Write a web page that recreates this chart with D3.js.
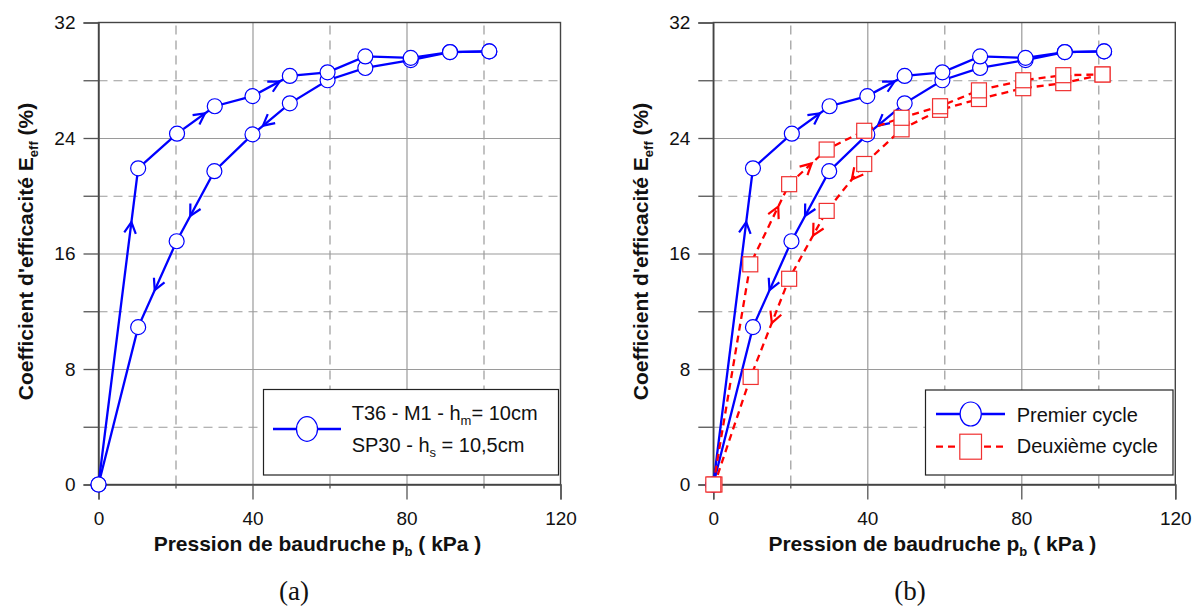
<!DOCTYPE html>
<html>
<head>
<meta charset="utf-8">
<script src="https://cdn.jsdelivr.net/npm/d3@7"></script>
<style>
  html, body { margin: 0; padding: 0; background: #fff; }
  svg { display: block; }
</style>
</head>
<body>
<svg id="chart" width="1194" height="606"></svg>
<script>
// ---------- data ----------
const pressureTicks = [0, 40, 80, 120];
const pressureMinorTicks = [20, 60, 100];
const effTicks = [0, 8, 16, 24, 32];
const effMinorTicks = [4, 12, 20, 28];

// Premier cycle (loading then unloading)
const p1Load = [0, 10.3, 20.4, 30.2, 40, 49.7, 59.5, 69.3, 81.1, 91.3, 101.5];
const e1Load = [0, 21.9, 24.3, 26.2, 26.9, 28.3, 28.55, 29.65, 29.55, 29.95, 30.0];
const p1Unload = [101.5, 91.3, 81.1, 69.3, 59.5, 49.7, 40, 30.1, 20.3, 10.3, 0];
const e1Unload = [30.0, 29.95, 29.4, 28.85, 28.0, 26.4, 24.25, 21.7, 16.85, 10.9, 0];

// Deuxième cycle
const p2Load = [0, 9.6, 19.7, 29.45, 39.2, 48.9, 58.9, 69.0, 80.5, 90.9, 101.1];
const e2Load = [0, 15.25, 20.8, 23.2, 24.5, 25.4, 26.2, 27.3, 28.0, 28.35, 28.4];
const p2Unload = [101.1, 90.9, 80.5, 69.0, 58.9, 48.9, 39.2, 29.45, 19.7, 9.7, 0.3];
const e2Unload = [28.4, 27.8, 27.45, 26.7, 25.95, 24.6, 22.2, 18.95, 14.25, 7.45, 0];

// arrows: [segment start index, position along segment]
const arrows1Load = [[0, 0.83], [2, 0.74], [4, 0.73]];
const arrows1Unload = [[5, 0.72], [7, 0.64], [8, 0.57]];
const arrows2Load = [[1, 0.72], [2, 0.6]];
const arrows2Unload = [[6, 0.33], [7, 0.36], [8, 0.45]];

const xTitle = ["Pression de baudruche p", "b", " ( kPa )"];
const yTitle = ["Coefficient d'efficacité E", "eff", " (%)"];
const legendA = [["T36 - M1 - h", "m", "= 10cm"], ["SP30 - h", "s", " = 10,5cm"]];
const legendB = ["Premier cycle", "Deuxième cycle"];
const panelLabels = ["(a)", "(b)"];

// ---------- drawing ----------
const svg = d3.select("#chart");
const BLUE = "#0000ff", RED = "#ff0000", RED_MARK = "#f03030";
const SANS = "'Liberation Sans', Arial, Helvetica, sans-serif";

const x = d3.scaleLinear().domain([0, 120]).range([98.5, 560.5]);
const y = d3.scaleLinear().domain([0, 32]).range([484.5, 22.5]);

const zip = (a, b) => a.map((v, i) => [v, b[i]]);

function drawPanel(dx, withSecond, label, labelX) {
  const g = svg.append("g").attr("transform", `translate(${dx},0)`);

  // grid
  const gridStyle = (sel, dash) => {
    sel.select(".domain").remove();
    sel.selectAll(".tick line").attr("stroke", "#9a9a9a").attr("stroke-width", 1.2)
      .attr("stroke-dasharray", dash);
    sel.selectAll(".tick text").remove();
  };
  g.append("g").attr("transform", `translate(0,${y(0)})`)
    .call(d3.axisBottom(x).tickValues([40, 80]).tickSize(-(y(0) - y(32))).tickFormat(""))
    .call(s => gridStyle(s, null));
  g.append("g").attr("transform", `translate(0,${y(0)})`)
    .call(d3.axisBottom(x).tickValues(pressureMinorTicks).tickSize(-(y(0) - y(32))).tickFormat(""))
    .call(s => gridStyle(s, "9,6"));
  g.append("g").attr("transform", `translate(${x(0)},0)`)
    .call(d3.axisLeft(y).tickValues([8, 16, 24]).tickSize(-(x(120) - x(0))).tickFormat(""))
    .call(s => gridStyle(s, null));
  g.append("g").attr("transform", `translate(${x(0)},0)`)
    .call(d3.axisLeft(y).tickValues(effMinorTicks).tickSize(-(x(120) - x(0))).tickFormat(""))
    .call(s => gridStyle(s, "9,6"));

  // frame
  g.append("rect").attr("x", x(0)).attr("y", y(32))
    .attr("width", x(120) - x(0)).attr("height", y(0) - y(32))
    .attr("fill", "none").attr("stroke", "#444").attr("stroke-width", 1.4);

  // axes
  const axStyle = sel => {
    sel.select(".domain").attr("stroke", "#444").attr("stroke-width", 1.4);
    sel.selectAll(".tick line").attr("stroke", "#555").attr("stroke-width", 1.3);
    sel.selectAll(".tick text").attr("font-family", SANS).attr("font-size", 19).attr("fill", "#111");
  };
  g.append("g").attr("transform", `translate(${x(0)},0)`)
    .call(d3.axisLeft(y).tickValues(effTicks.concat(effMinorTicks)).tickSize(15).tickPadding(8)
      .tickFormat(d => effTicks.includes(d) ? d : ""))
    .call(axStyle);
  g.append("g").attr("transform", `translate(0,${y(0)})`)
    .call(d3.axisBottom(x).tickValues(pressureTicks).tickSize(15).tickPadding(12))
    .call(axStyle);
  g.append("g").attr("transform", `translate(0,${y(0)})`)
    .call(d3.axisBottom(x).tickValues(pressureMinorTicks).tickSize(4).tickFormat(""))
    .call(s => { s.select(".domain").remove(); s.selectAll(".tick line").attr("stroke", "#555").attr("stroke-width", 1.3); });

  // titles
  const xt = g.append("text").attr("x", 317.5).attr("y", 551)
    .attr("text-anchor", "middle").attr("font-family", SANS).attr("font-weight", "bold")
    .attr("font-size", 21).attr("fill", "#111");
  xt.append("tspan").text(xTitle[0]);
  xt.append("tspan").attr("font-size", 13).attr("dy", 5).text(xTitle[1]);
  xt.append("tspan").attr("dy", -5).text(xTitle[2]);

  const yt = g.append("text").attr("transform", "translate(33,251.5) rotate(-90)")
    .attr("text-anchor", "middle").attr("font-family", SANS).attr("font-weight", "bold")
    .attr("font-size", 21).attr("fill", "#111");
  yt.append("tspan").text(yTitle[0]);
  yt.append("tspan").attr("font-size", 13).attr("dy", 5).text(yTitle[1]);
  yt.append("tspan").attr("dy", -5).text(yTitle[2]);

  const line = d3.line().x(d => x(d[0])).y(d => y(d[1]));

  function arrow(pts, seg, f, color) {
    const a = pts[seg], b = pts[seg + 1];
    const ax = x(a[0]), ay = y(a[1]), bx = x(b[0]), by = y(b[1]);
    const tx = ax + (bx - ax) * f, ty = ay + (by - ay) * f;
    const ang = Math.atan2(by - ay, bx - ax);
    const L = 12.5, spread = Math.PI / 6.5;
    const p1 = [tx - L * Math.cos(ang - spread), ty - L * Math.sin(ang - spread)];
    const p2 = [tx - L * Math.cos(ang + spread), ty - L * Math.sin(ang + spread)];
    g.append("path").attr("d", `M${p1[0]},${p1[1]}L${tx},${ty}L${p2[0]},${p2[1]}`)
      .attr("fill", "none").attr("stroke", color).attr("stroke-width", 2.2)
      .attr("stroke-linejoin", "miter");
  }

  // series 1
  const l1 = zip(p1Load, e1Load), u1 = zip(p1Unload, e1Unload);
  [l1, u1].forEach(pts => g.append("path").attr("d", line(pts)).attr("fill", "none")
    .attr("stroke", BLUE).attr("stroke-width", 2.3));
  arrows1Load.forEach(([s, f]) => arrow(l1, s, f, BLUE));
  arrows1Unload.forEach(([s, f]) => arrow(u1, s, f, BLUE));
  g.append("g").selectAll("circle").data(u1.concat(l1)).join("circle")
    .attr("cx", d => x(d[0])).attr("cy", d => y(d[1])).attr("r", 7.5)
    .attr("fill", "#fff").attr("stroke", BLUE).attr("stroke-width", 1.2);

  if (withSecond) {
    const l2 = zip(p2Load, e2Load), u2 = zip(p2Unload, e2Unload);
    [l2, u2].forEach(pts => g.append("path").attr("d", line(pts)).attr("fill", "none")
      .attr("stroke", RED).attr("stroke-width", 2.3).attr("stroke-dasharray", "7,5"));
    arrows2Load.forEach(([s, f]) => arrow(l2, s, f, RED));
    arrows2Unload.forEach(([s, f]) => arrow(u2, s, f, RED));
    g.append("g").selectAll("rect").data(u2.concat(l2)).join("rect")
      .attr("x", d => x(d[0]) - 7.5).attr("y", d => y(d[1]) - 7.5)
      .attr("width", 15).attr("height", 15)
      .attr("fill", "#fff").attr("stroke", RED_MARK).attr("stroke-width", 1.2);
  }

  // legend
  if (!withSecond) {
    const lg = g.append("g");
    lg.append("rect").attr("x", 263.5).attr("y", 389.5).attr("width", 295).attr("height", 85.5)
      .attr("fill", "#fff").attr("stroke", "#222").attr("stroke-width", 1.2);
    lg.append("line").attr("x1", 273).attr("x2", 341).attr("y1", 429).attr("y2", 429)
      .attr("stroke", BLUE).attr("stroke-width", 2.3);
    lg.append("ellipse").attr("cx", 307).attr("cy", 429).attr("rx", 10.5).attr("ry", 12.3)
      .attr("fill", "#fff").attr("stroke", BLUE).attr("stroke-width", 1.2);
    legendA.forEach((parts, i) => {
      const t = lg.append("text").attr("x", 351.7).attr("y", i === 0 ? 420 : 451.5)
        .attr("font-family", SANS).attr("font-size", 20).attr("fill", "#111");
      t.append("tspan").text(parts[0]);
      t.append("tspan").attr("font-size", 13).attr("dy", 5).text(parts[1]);
      t.append("tspan").attr("dy", -5).text(parts[2]);
    });
  } else {
    const lg = g.append("g");
    lg.append("rect").attr("x", 310.7).attr("y", 390).attr("width", 247.5).attr("height", 85)
      .attr("fill", "#fff").attr("stroke", "#222").attr("stroke-width", 1.2);
    lg.append("line").attr("x1", 321.2).attr("x2", 390.2).attr("y1", 414).attr("y2", 414)
      .attr("stroke", BLUE).attr("stroke-width", 2.3);
    lg.append("ellipse").attr("cx", 355.9).attr("cy", 414).attr("rx", 10.6).attr("ry", 12)
      .attr("fill", "#fff").attr("stroke", BLUE).attr("stroke-width", 1.2);
    lg.append("line").attr("x1", 321.2).attr("x2", 390.2).attr("y1", 446.7).attr("y2", 446.7)
      .attr("stroke", RED).attr("stroke-width", 2.3).attr("stroke-dasharray", "7,5");
    lg.append("rect").attr("x", 345).attr("y", 434.2).attr("width", 21.7).attr("height", 25)
      .attr("fill", "#fff").attr("stroke", RED_MARK).attr("stroke-width", 1.2);
    legendB.forEach((s, i) => {
      lg.append("text").attr("x", 401.9).attr("y", i === 0 ? 421.5 : 453.3)
        .attr("font-family", SANS).attr("font-size", 20).attr("fill", "#111").text(s);
    });
  }

  svg.append("text").attr("x", labelX).attr("y", 600).attr("text-anchor", "middle")
    .attr("font-family", "'Liberation Serif', 'Times New Roman', serif").attr("font-size", 27)
    .attr("fill", "#111").text(label);
}

drawPanel(0, false, panelLabels[0], 294);
drawPanel(614.8, true, panelLabels[1], 910);
</script>
</body>
</html>
